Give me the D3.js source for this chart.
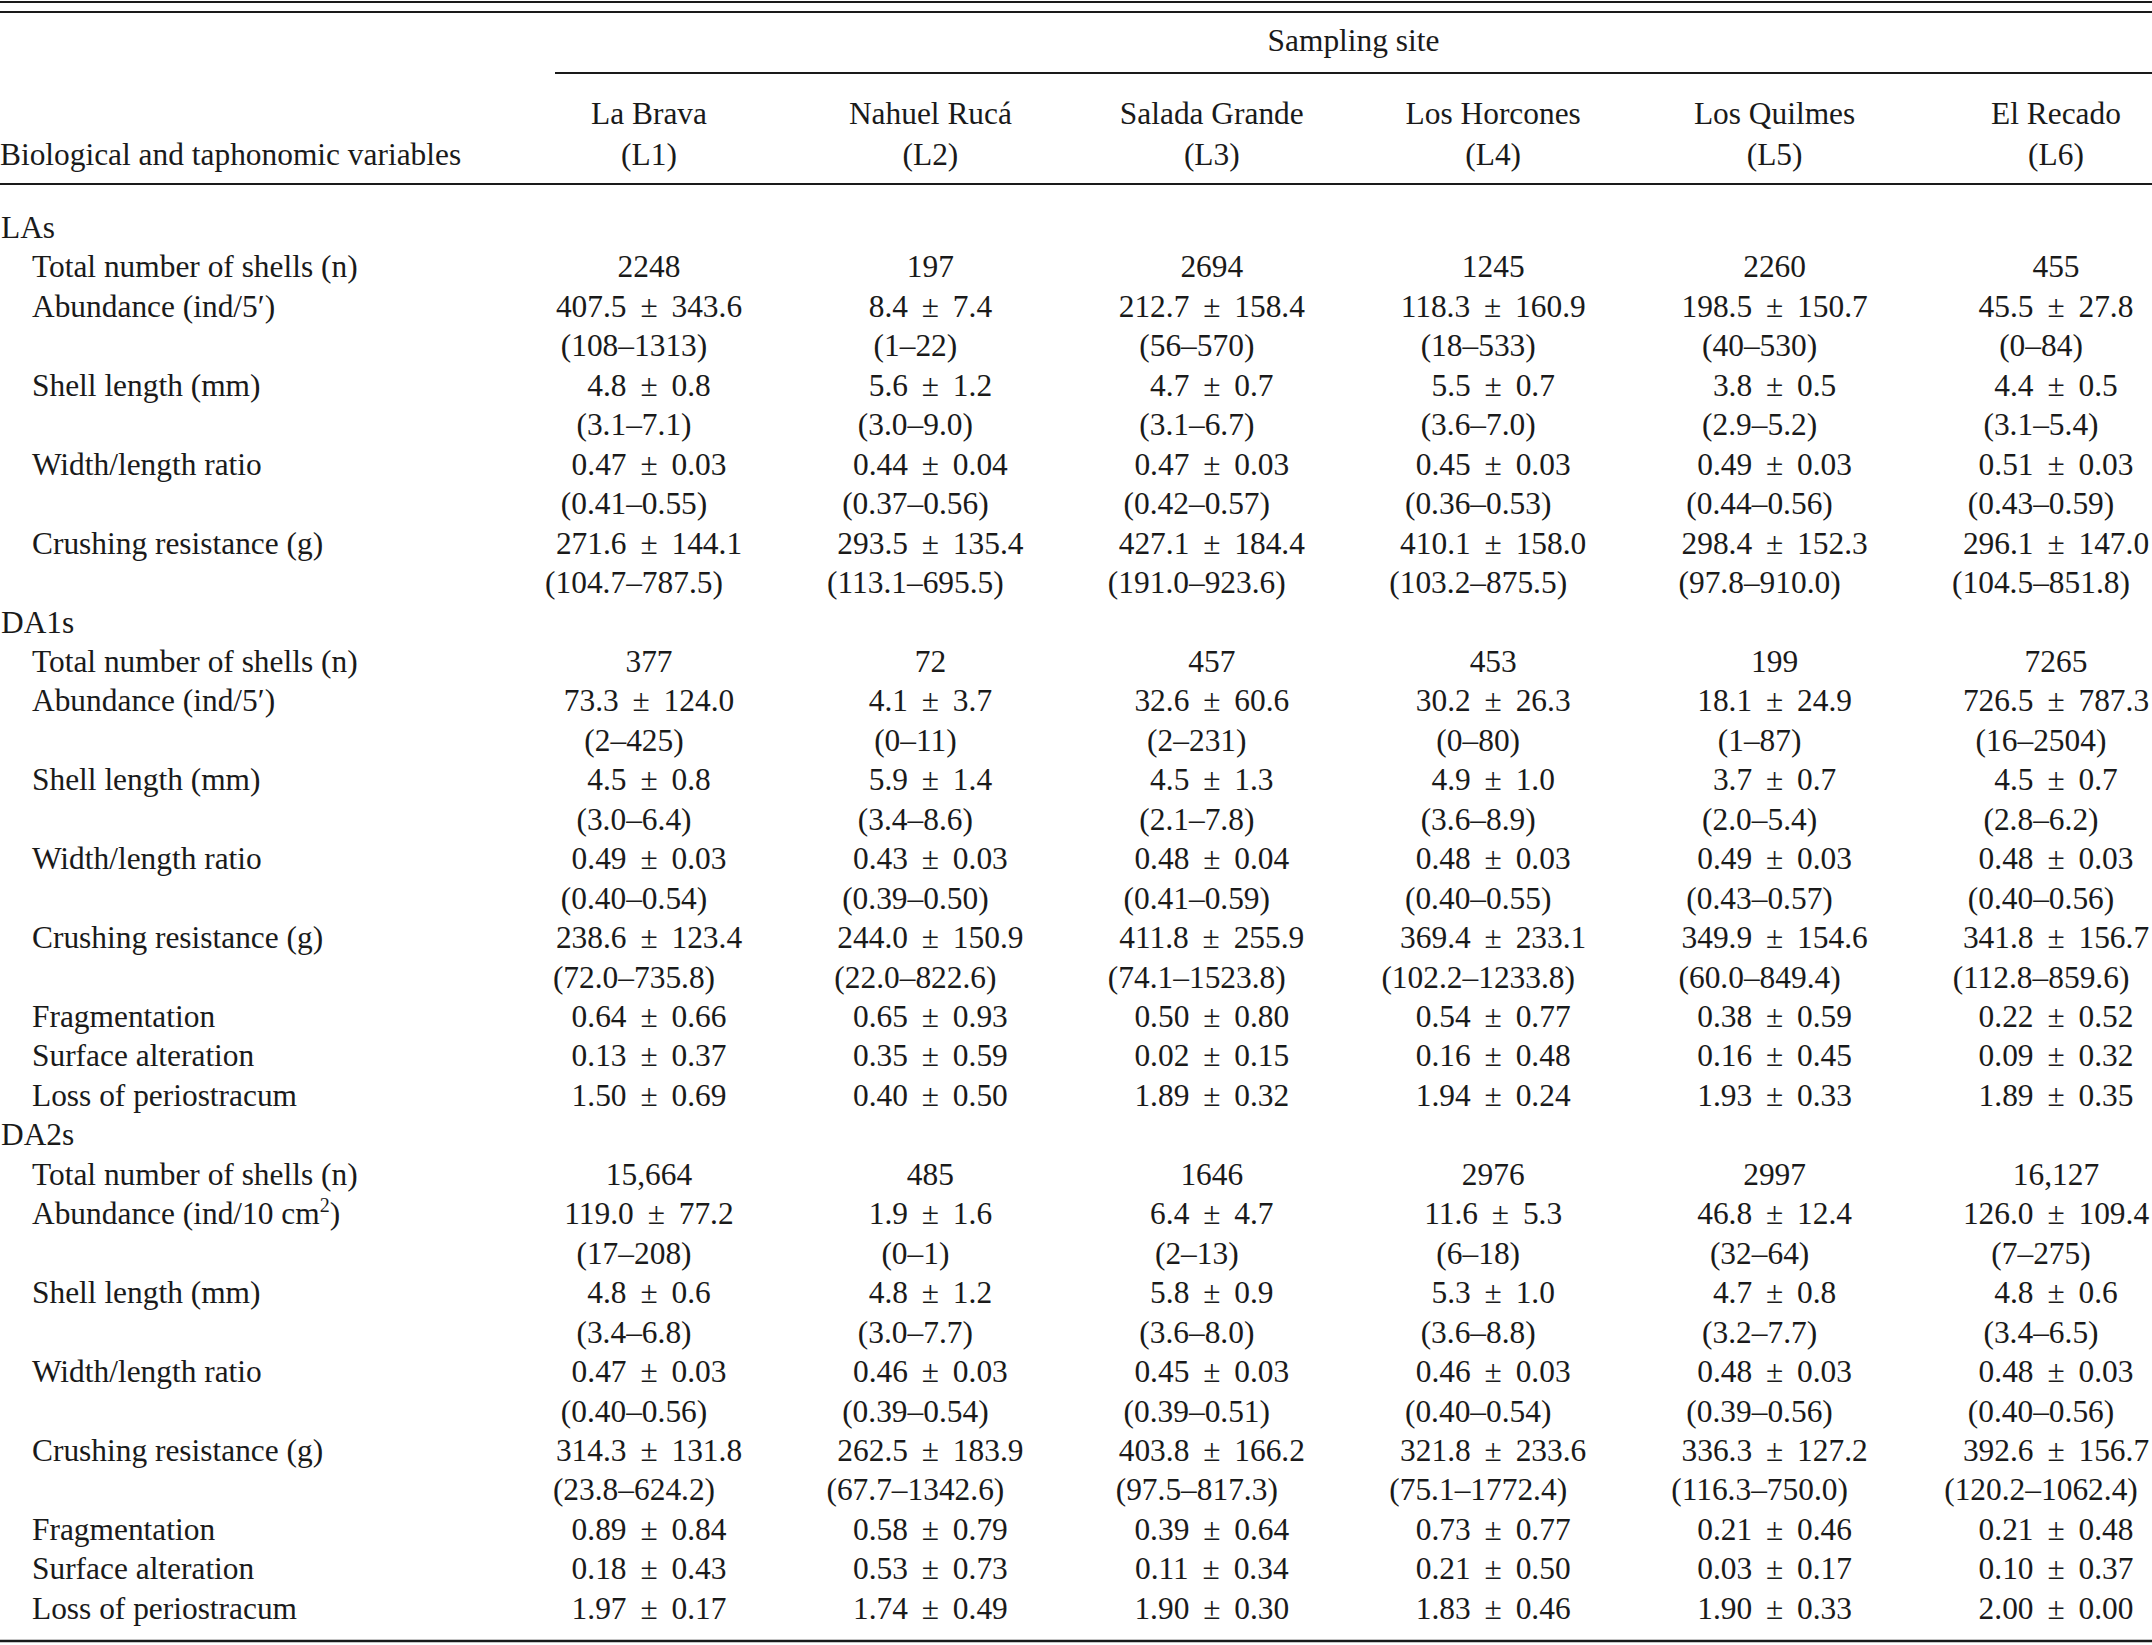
<!DOCTYPE html>
<html>
<head>
<meta charset="utf-8">
<script src="https://cdn.jsdelivr.net/npm/d3@7"></script>
<style>
  body { margin: 0; background: #fff; }
  svg text { font-family: "Liberation Serif", "Times New Roman", serif; font-size: 31.4px; fill: #1a1a1a; }
  .rule { stroke: #1a1a1a; }
</style>
</head>
<body>
<div id="canvas"></div>
<script>
// table content
var sites = ['La Brava', 'Nahuel Rucá', 'Salada Grande', 'Los Horcones', 'Los Quilmes', 'El Recado'];
var siteCodes = ['L1', 'L2', 'L3', 'L4', 'L5', 'L6'];
var groups = ['LAs', 'DA1s', 'DA2s'];

// LAs
var lasTotal = ['2248', '197', '2694', '1245', '2260', '455'];
var lasAbund = [['407.5','343.6'],['8.4','7.4'],['212.7','158.4'],['118.3','160.9'],['198.5','150.7'],['45.5','27.8']];
var lasAbundRange = [['108','1313'],['1','22'],['56','570'],['18','533'],['40','530'],['0','84']];
var lasLength = [['4.8','0.8'],['5.6','1.2'],['4.7','0.7'],['5.5','0.7'],['3.8','0.5'],['4.4','0.5']];
var lasLengthRange = [['3.1','7.1'],['3.0','9.0'],['3.1','6.7'],['3.6','7.0'],['2.9','5.2'],['3.1','5.4']];
var lasRatio = [['0.47','0.03'],['0.44','0.04'],['0.47','0.03'],['0.45','0.03'],['0.49','0.03'],['0.51','0.03']];
var lasRatioRange = [['0.41','0.55'],['0.37','0.56'],['0.42','0.57'],['0.36','0.53'],['0.44','0.56'],['0.43','0.59']];
var lasCrush = [['271.6','144.1'],['293.5','135.4'],['427.1','184.4'],['410.1','158.0'],['298.4','152.3'],['296.1','147.0']];
var lasCrushRange = [['104.7','787.5'],['113.1','695.5'],['191.0','923.6'],['103.2','875.5'],['97.8','910.0'],['104.5','851.8']];

// DA1s
var da1Total = ['377', '72', '457', '453', '199', '7265'];
var da1Abund = [['73.3','124.0'],['4.1','3.7'],['32.6','60.6'],['30.2','26.3'],['18.1','24.9'],['726.5','787.3']];
var da1AbundRange = [['2','425'],['0','11'],['2','231'],['0','80'],['1','87'],['16','2504']];
var da1Length = [['4.5','0.8'],['5.9','1.4'],['4.5','1.3'],['4.9','1.0'],['3.7','0.7'],['4.5','0.7']];
var da1LengthRange = [['3.0','6.4'],['3.4','8.6'],['2.1','7.8'],['3.6','8.9'],['2.0','5.4'],['2.8','6.2']];
var da1Ratio = [['0.49','0.03'],['0.43','0.03'],['0.48','0.04'],['0.48','0.03'],['0.49','0.03'],['0.48','0.03']];
var da1RatioRange = [['0.40','0.54'],['0.39','0.50'],['0.41','0.59'],['0.40','0.55'],['0.43','0.57'],['0.40','0.56']];
var da1Crush = [['238.6','123.4'],['244.0','150.9'],['411.8','255.9'],['369.4','233.1'],['349.9','154.6'],['341.8','156.7']];
var da1CrushRange = [['72.0','735.8'],['22.0','822.6'],['74.1','1523.8'],['102.2','1233.8'],['60.0','849.4'],['112.8','859.6']];
var da1Frag = [['0.64','0.66'],['0.65','0.93'],['0.50','0.80'],['0.54','0.77'],['0.38','0.59'],['0.22','0.52']];
var da1Surf = [['0.13','0.37'],['0.35','0.59'],['0.02','0.15'],['0.16','0.48'],['0.16','0.45'],['0.09','0.32']];
var da1Loss = [['1.50','0.69'],['0.40','0.50'],['1.89','0.32'],['1.94','0.24'],['1.93','0.33'],['1.89','0.35']];

// DA2s
var da2Total = ['15,664', '485', '1646', '2976', '2997', '16,127'];
var da2Abund = [['119.0','77.2'],['1.9','1.6'],['6.4','4.7'],['11.6','5.3'],['46.8','12.4'],['126.0','109.4']];
var da2AbundRange = [['17','208'],['0','1'],['2','13'],['6','18'],['32','64'],['7','275']];
var da2Length = [['4.8','0.6'],['4.8','1.2'],['5.8','0.9'],['5.3','1.0'],['4.7','0.8'],['4.8','0.6']];
var da2LengthRange = [['3.4','6.8'],['3.0','7.7'],['3.6','8.0'],['3.6','8.8'],['3.2','7.7'],['3.4','6.5']];
var da2Ratio = [['0.47','0.03'],['0.46','0.03'],['0.45','0.03'],['0.46','0.03'],['0.48','0.03'],['0.48','0.03']];
var da2RatioRange = [['0.40','0.56'],['0.39','0.54'],['0.39','0.51'],['0.40','0.54'],['0.39','0.56'],['0.40','0.56']];
var da2Crush = [['314.3','131.8'],['262.5','183.9'],['403.8','166.2'],['321.8','233.6'],['336.3','127.2'],['392.6','156.7']];
var da2CrushRange = [['23.8','624.2'],['67.7','1342.6'],['97.5','817.3'],['75.1','1772.4'],['116.3','750.0'],['120.2','1062.4']];
var da2Frag = [['0.89','0.84'],['0.58','0.79'],['0.39','0.64'],['0.73','0.77'],['0.21','0.46'],['0.21','0.48']];
var da2Surf = [['0.18','0.43'],['0.53','0.73'],['0.11','0.34'],['0.21','0.50'],['0.03','0.17'],['0.10','0.37']];
var da2Loss = [['1.97','0.17'],['1.74','0.49'],['1.90','0.30'],['1.83','0.46'],['1.90','0.33'],['2.00','0.00']];

// build the row list
var rows = [];
function stat(label, vals, range){
    rows.push({type:'stat', label:label, values:vals});
    if(range) rows.push({type:'range', label:null, values:range});
}
function section(name, d){
    rows.push({type:'group', label:[name]});
    stat(['Total number of shells (n)'], d.total);
    stat(d.abundLabel, d.abund, d.abundRange);
    stat(['Shell length (mm)'], d.length, d.lengthRange);
    stat(['Width/length ratio'], d.ratio, d.ratioRange);
    stat(['Crushing resistance (g)'], d.crush, d.crushRange);
    if(d.frag){
        stat(['Fragmentation'], d.frag);
        stat(['Surface alteration'], d.surf);
        stat(['Loss of periostracum'], d.loss);
    }
}
section(groups[0], {total:lasTotal, abundLabel:['Abundance (ind/5\u2032)'], abund:lasAbund, abundRange:lasAbundRange,
    length:lasLength, lengthRange:lasLengthRange, ratio:lasRatio, ratioRange:lasRatioRange, crush:lasCrush, crushRange:lasCrushRange});
section(groups[1], {total:da1Total, abundLabel:['Abundance (ind/5\u2032)'], abund:da1Abund, abundRange:da1AbundRange,
    length:da1Length, lengthRange:da1LengthRange, ratio:da1Ratio, ratioRange:da1RatioRange, crush:da1Crush, crushRange:da1CrushRange,
    frag:da1Frag, surf:da1Surf, loss:da1Loss});
section(groups[2], {total:da2Total, abundLabel:['Abundance (ind/10 cm', '2', ')'], abund:da2Abund, abundRange:da2AbundRange,
    length:da2Length, lengthRange:da2LengthRange, ratio:da2Ratio, ratioRange:da2RatioRange, crush:da2Crush, crushRange:da2CrushRange,
    frag:da2Frag, surf:da2Surf, loss:da2Loss});

// layout
var outerWidth = 2152, outerHeight = 1645;
var svg = d3.select('#canvas').append('svg')
    .attr('width', outerWidth)
    .attr('height', outerHeight);

var scaleX = d3.scalePoint().domain(siteCodes).range([649, 2056]);
var scaleY = d3.scaleLinear().domain([0, rows.length - 1]).range([238, 1618.8]);
var rangeShift = -15;

// rules
function rule(x1, x2, y, sw){
    svg.append('line').attr('class','rule')
        .attr('x1', x1).attr('x2', x2).attr('y1', y).attr('y2', y)
        .attr('stroke-width', sw);
}
rule(0, outerWidth, 2, 2.2);
rule(0, outerWidth, 12, 2.2);
rule(555, outerWidth, 73, 2.2);
rule(0, outerWidth, 184, 2.2);
rule(0, outerWidth, 1641, 2.4);

// header
svg.append('text')
    .attr('x', (555 + outerWidth) / 2).attr('y', 51)
    .attr('text-anchor', 'middle')
    .text('Sampling site');

svg.append('text')
    .attr('x', 0).attr('y', 165)
    .text('Biological and taphonomic variables');

svg.selectAll('.site-name')
    .data(sites)
    .join('text')
    .attr('class', 'site-name')
    .attr('x', function(d, i){ return scaleX(siteCodes[i]); })
    .attr('y', 124)
    .attr('text-anchor', 'middle')
    .text(function(d){ return d; });

svg.selectAll('.site-code')
    .data(siteCodes)
    .join('text')
    .attr('class', 'site-code')
    .attr('x', function(d){ return scaleX(d); })
    .attr('y', 165)
    .attr('text-anchor', 'middle')
    .text(function(d){ return '(' + d + ')'; });

// body rows
var rowG = svg.selectAll('.row')
    .data(rows)
    .join('g')
    .attr('class', 'row')
    .attr('transform', function(d, i){ return 'translate(0,' + scaleY(i) + ')'; });

// row labels
rowG.filter(function(d){ return d.label; })
    .append('text')
    .attr('x', function(d){ return d.type === 'group' ? 1 : 32; })
    .each(function(d){
        var t = d3.select(this);
        t.append('tspan').text(d.label[0]);
        if(d.label.length > 1){
            t.append('tspan').attr('dy', -12).style('font-size', '20px').text(d.label[1]);
            t.append('tspan').attr('dy', 12).text(d.label[2]);
        }
    });

// cell values
rowG.filter(function(d){ return d.type !== 'group'; })
    .selectAll('.cell')
    .data(function(d){ return d.values.map(function(v){ return {type:d.type, v:v}; }); })
    .join('text')
    .attr('class', 'cell')
    .attr('x', function(d, i){ return scaleX(siteCodes[i]) + (d.type === 'range' ? rangeShift : 0); })
    .attr('text-anchor', 'middle')
    .style('word-spacing', '6px')
    .text(function(d){
        if(typeof d.v === 'string') return d.v;
        if(d.type === 'range') return '(' + d.v[0] + '\u2013' + d.v[1] + ')';
        return d.v[0] + ' \u00b1 ' + d.v[1];
    });
</script>
</body>
</html>
